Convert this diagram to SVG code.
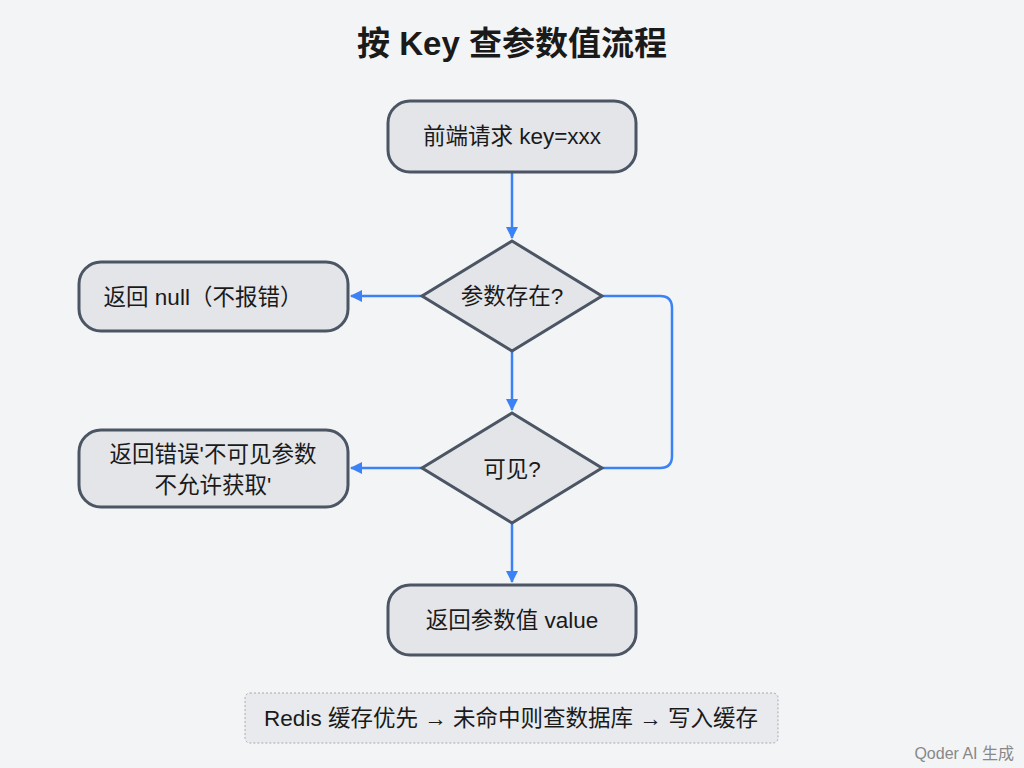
<svg xmlns="http://www.w3.org/2000/svg" width="1024" height="768" viewBox="0 0 1024 768">
<defs>
<marker id="ah" markerWidth="12" markerHeight="12" refX="11" refY="6" orient="auto" markerUnits="userSpaceOnUse"><path d="M0,0 L12,6 L0,12 Z" fill="#3b82f6"/></marker>
<style>
.n{fill:#e3e5e9;stroke:#4b5563;stroke-width:3}
.t{font-family:"Liberation Sans","Noto Sans CJK SC",sans-serif;font-size:22.5px;fill:#1a1a1a;text-anchor:middle}
.c{fill:none;stroke:#3b82f6;stroke-width:2.5}
</style>
</defs>
<rect width="1024" height="768" fill="#f3f4f6"/>
<text x="512" y="55" class="t" style="font-size:33px;font-weight:bold">按 Key 查参数值流程</text>
<g id="connectors">
<path class="c" d="M512,172 V238" marker-end="url(#ah)"/>
<path class="c" d="M422,296 H351" marker-end="url(#ah)"/>
<path class="c" d="M512,351 V410" marker-end="url(#ah)"/>
<path class="c" d="M602,296 H660 Q672,296 672,308 V456 Q672,468 660,468 H602"/>
<path class="c" d="M422,468 H351" marker-end="url(#ah)"/>
<path class="c" d="M512,523 V582" marker-end="url(#ah)"/>
</g>
<g id="start"><rect class="n" x="388" y="101" width="248" height="71" rx="22"/><text class="t" x="512" y="144">前端请求 key=xxx</text></g>
<g id="exists"><polygon class="n" points="512,241 602,296 512,351 422,296"/><text class="t" x="512" y="304">参数存在?</text></g>
<g id="retnull"><rect class="n" x="79" y="262" width="269" height="69" rx="22"/><text class="t" x="203" y="305">返回 null（不报错）</text></g>
<g id="visible"><polygon class="n" points="512,413 602,468 512,523 422,468"/><text class="t" x="512" y="477">可见?</text></g>
<g id="reterr"><rect class="n" x="79" y="430" width="269" height="77" rx="22"/><text class="t" x="213" y="462">返回错误'不可见参数</text><text class="t" x="213" y="493">不允许获取'</text></g>
<g id="retval"><rect class="n" x="388" y="585" width="248" height="70" rx="22"/><text class="t" x="512" y="628">返回参数值 value</text></g>
<g id="note"><rect x="245" y="693" width="533" height="50" rx="5" fill="#e8eaed" stroke="#aaa" stroke-dasharray="2,2"/><text class="t" x="511" y="726">Redis 缓存优先 → 未命中则查数据库 → 写入缓存</text></g>
<text x="1014" y="759" style="font-family:'Liberation Sans','Noto Sans CJK SC',sans-serif;font-size:16px;fill:#888;text-anchor:end">Qoder AI 生成</text>
</svg>
